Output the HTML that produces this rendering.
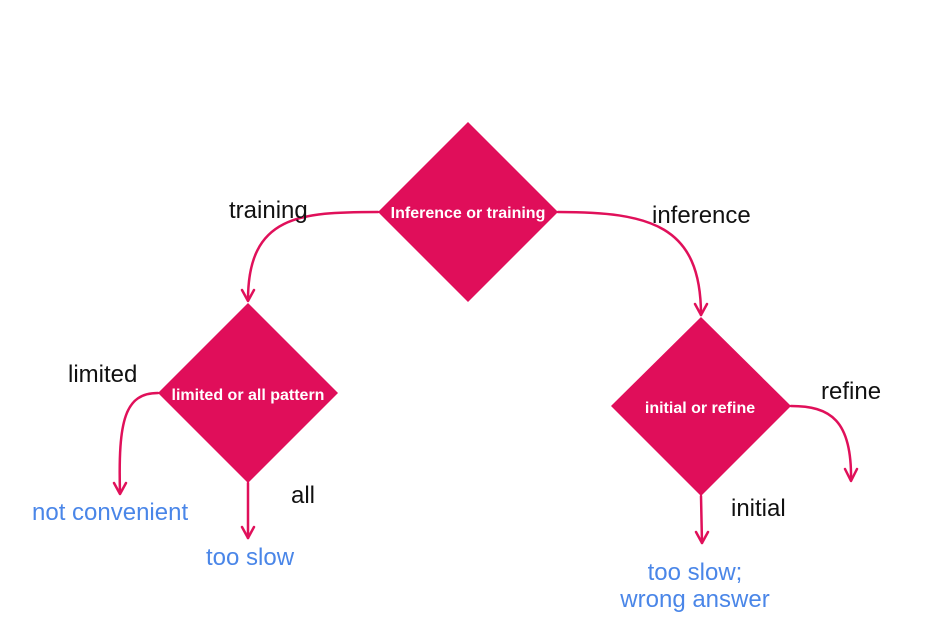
<!DOCTYPE html>
<html><head><meta charset="utf-8"><style>
body{margin:0;background:#fff;}
svg{display:block;}
text{font-family:"Liberation Sans",Arial,sans-serif;}
</style></head><body>
<svg width="929" height="631" viewBox="0 0 929 631" xmlns="http://www.w3.org/2000/svg">
<g fill="none" stroke="#e0105a" stroke-width="2.5" stroke-linecap="round" stroke-linejoin="round">
<path d="M378 212 C300 212 248 215 248 300"/>
<path d="M242 290 L248 301 L254 290"/>
<path d="M558 212 C650 212 701 225 701 315"/>
<path d="M695 304 L701 315 L707 304"/>
<path d="M158 393 C125 393 118 420 120 493"/>
<path d="M114 483 L120 494 L126 483"/>
<path d="M248 483 L248 538"/>
<path d="M242 527 L248 538 L254 527"/>
<path d="M701 496 L702 543"/>
<path d="M696 532 L702 543 L708 532"/>
<path d="M791 406 C830 406 852 420 851 480"/>
<path d="M845 469 L851 481 L857 469"/>
</g>
<g fill="#e00e5a">
<polygon points="468,122 558,212 468,302 378,212"/>
<polygon points="248,303 338,393 248,483 158,393"/>
<polygon points="701,317 791,406 701,496 611,406"/>
</g>
<g fill="#fff" font-size="16" font-weight="bold" text-anchor="middle">
<text x="468" y="218">Inference or training</text>
<text x="248" y="400">limited or all pattern</text>
<text x="700" y="413">initial or refine</text>
</g>
<g fill="#111" font-size="24">
<text x="229" y="218">training</text>
<text x="652" y="223">inference</text>
<text x="68" y="382">limited</text>
<text x="291" y="503">all</text>
<text x="821" y="399">refine</text>
<text x="731" y="516">initial</text>
</g>
<g fill="#4a86e8" font-size="24">
<text x="32" y="520">not convenient</text>
<text x="206" y="565">too slow</text>
<text x="695" y="580" text-anchor="middle">too slow;</text>
<text x="695" y="607" text-anchor="middle">wrong answer</text>
</g>
</svg>
</body></html>
